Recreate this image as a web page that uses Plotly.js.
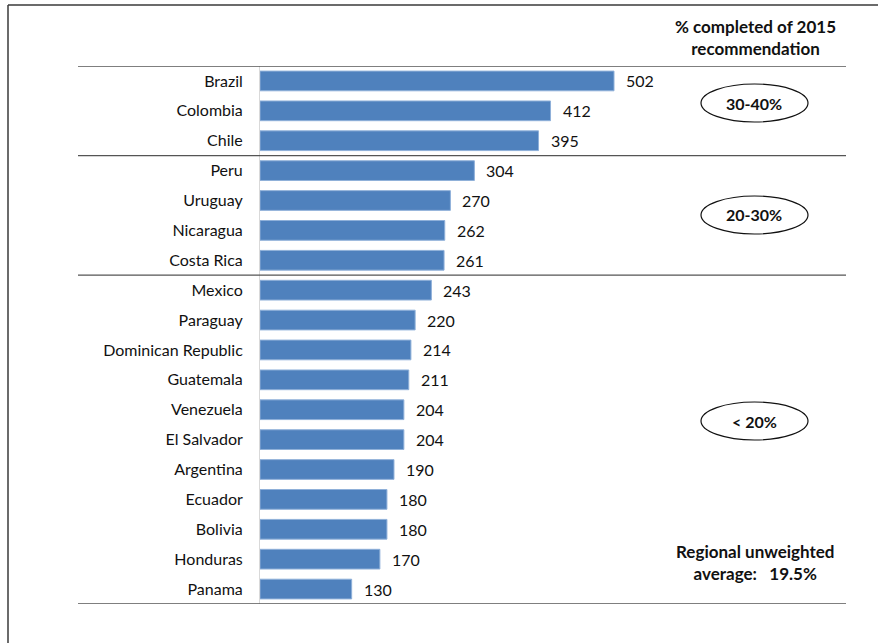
<!DOCTYPE html>
<html>
<head>
<meta charset="utf-8">
<script src="https://cdn.plot.ly/plotly-3.0.1.min.js"></script>
<style>html,body{margin:0;padding:0;background:#fff;}#chart{width:878px;height:643px;}</style>
</head>
<body>
<div id="chart"></div>
<script>
const countries = ["Brazil","Colombia","Chile","Peru","Uruguay","Nicaragua","Costa Rica","Mexico","Paraguay","Dominican Republic","Guatemala","Venezuela","El Salvador","Argentina","Ecuador","Bolivia","Honduras","Panama"];
const values = [502,412,395,304,270,262,261,243,220,214,211,204,204,190,180,180,170,130];
const groupLabels = ["30-40%","20-30%","< 20%"];
const headerText = "% completed of 2015<br>recommendation";
const averageText = "Regional unweighted<br>average:&#160;&#160; 19.5%";

const W = 878, H = 643;
const L = 260, R = 32, T = 66, B = 39;
const pw = W - L - R, ph = H - T - B;
const px = x => (x - L) / pw;
const py = y => (H - B - y) / ph;
const font = "Lato, 'Open Sans', sans-serif";
const dark = "#3a3a3a";

const shapes = [];
// outer frame
shapes.push({type:"line", xref:"paper", yref:"paper", x0:px(8), x1:px(8), y0:py(5), y1:py(650), line:{color:dark, width:1.5}});
shapes.push({type:"line", xref:"paper", yref:"paper", x0:px(8), x1:px(885), y0:py(5), y1:py(5), line:{color:dark, width:1.5}});
// separators (between category groups)
[-0.5, 2.5, 6.5, 17.5].forEach(v => {
  shapes.push({type:"line", xref:"paper", yref:"y", x0:px(78), x1:px(846), y0:v, y1:v, line:{color:"#555", width:1.3}});
});
// ellipses
const ellY = [103, 215, 421];
ellY.forEach(cy => {
  shapes.push({type:"circle", xref:"paper", yref:"paper", x0:px(701), x1:px(808), y0:py(cy-19), y1:py(cy+19), line:{color:"#111", width:1.2}});
});

const annotations = values.map((v,i) => ({
  x: v, y: countries[i], xref:"x", yref:"y", text: String(v), showarrow:false,
  xanchor:"left", xshift: 10, font:{family:font, size:16, color:"#111"}
}));
groupLabels.forEach((t,i) => annotations.push({
  xref:"paper", yref:"paper", x:px(754), y:py(ellY[i]), text:"<b>"+t+"</b>", showarrow:false,
  xanchor:"center", yanchor:"middle", font:{family:font, size:16, color:"#111"}
}));
annotations.push({xref:"paper", yref:"paper", x:px(755), y:py(37), text:"<b>"+headerText+"</b>", showarrow:false,
  xanchor:"center", yanchor:"middle", font:{family:font, size:17, color:"#111"}});
annotations.push({xref:"paper", yref:"paper", x:px(755), y:py(562), text:"<b>"+averageText+"</b>", showarrow:false,
  xanchor:"center", yanchor:"middle", font:{family:font, size:17, color:"#111"}});

const trace = {
  type:"bar", orientation:"h", x: values, y: countries,
  marker:{color:"#4F81BD", line:{color:"#8fb0d9", width:1}},
  width: 0.66, hoverinfo:"skip"
};

const layout = {
  width: W, height: H,
  margin:{l:L, r:R, t:T, b:B, pad:0},
  paper_bgcolor:"#fff", plot_bgcolor:"#fff",
  showlegend:false,
  font:{family:font, size:16, color:"#111"},
  xaxis:{range:[0,831], visible:false, fixedrange:true},
  yaxis:{type:"category", range:[17.5,-0.5], showline:true, linecolor:"#d9d9d9", linewidth:1,
    ticks:"outside", ticklen:13, tickcolor:"rgba(0,0,0,0)", showgrid:false, zeroline:false,
    tickfont:{family:font, size:16, color:"#111"}},
  shapes: shapes,
  annotations: annotations
};

Plotly.newPlot("chart", [trace], layout, {displayModeBar:false, staticPlot:true});
</script>
</body>
</html>
